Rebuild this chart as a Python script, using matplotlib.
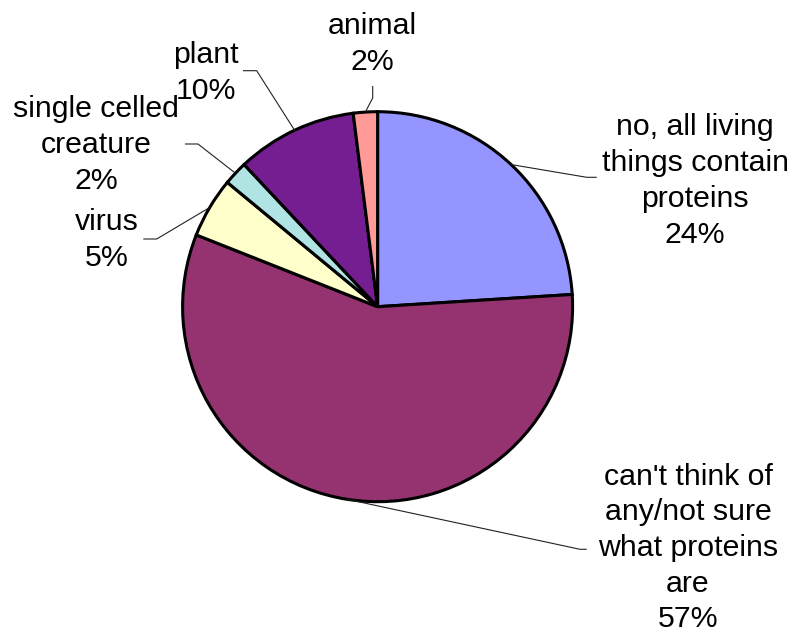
import matplotlib
matplotlib.use("Agg")
import matplotlib.pyplot as plt
import numpy as np

categories = ["no, all living\nthings contain\nproteins",
              "can't think of\nany/not sure\nwhat proteins\nare",
              "virus",
              "single celled\ncreature",
              "plant",
              "animal"]
values = [24, 57, 5, 2, 10, 2]
colors = ["#9595FF", "#943370", "#FFFFCC", "#B0E4E4", "#751E91", "#FF9A99"]

# label layout (figure pixel coords, y up): text centre, elbow point, text-side end
label_pos = [(695, 452), (688, 85), (107, 393), (96, 488), (206, 560), (372.5, 589)]
elbow = [(586.7, 455.7), (580, 83.7), (156.7, 394), (198, 489), (256.7, 562.3), (372.7, 535)]
tend = [(596.7, 455.7), (586.7, 83.7), (143.3, 394), (185, 489), (243, 562.3), (372.7, 547)]

W, H = 796, 633
fig = plt.figure(figsize=(W / 100, H / 100), dpi=100)
ax = fig.add_axes([0, 0, 1, 1])

cx, cy, R = 377.6, 326.3, 195
wedges, _ = ax.pie(values, colors=colors, startangle=90, counterclock=False,
                   center=(cx, cy), radius=R, frame=True,
                   wedgeprops=dict(edgecolor="black", linewidth=2.2))
ax.set_xlim(0, W)
ax.set_ylim(0, H)
ax.set_aspect("equal")
ax.axis("off")

for w, cat, v, lp, el, te in zip(wedges, categories, values, label_pos, elbow, tend):
    ang = np.deg2rad((w.theta1 + w.theta2) / 2)
    px, py = cx + R * np.cos(ang), cy + R * np.sin(ang)
    ax.plot([px, el[0], te[0]], [py, el[1], te[1]], color="#222222", lw=0.8,
            solid_capstyle="butt")
    ax.text(lp[0], lp[1], f"{cat}\n{v}%", ha="center", va="center",
            fontsize=21.8, family=["Liberation Sans", "DejaVu Sans"],
            linespacing=1.35, multialignment="center")

fig.savefig("out.png", dpi=100)
